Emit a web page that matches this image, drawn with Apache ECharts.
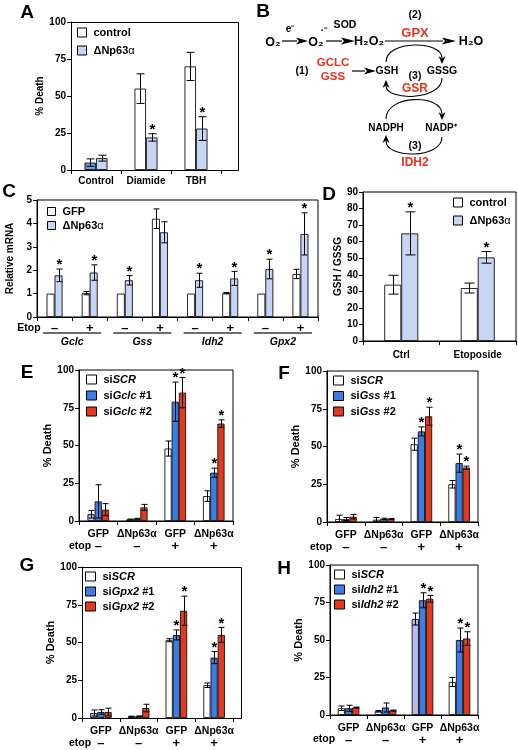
<!DOCTYPE html>
<html><head><meta charset="utf-8">
<script src="https://cdn.jsdelivr.net/npm/echarts@6/dist/echarts.min.js"></script>
<style>html,body{margin:0;padding:0;background:#fff}#c{width:518px;height:750px}</style>
</head><body><div id="c"></div>
<script>
// ---------- DATA ----------
// Panel A
const aCats = ['Control', 'Diamide', 'TBH'];
const aControl = [5, 55, 70];
const aControlErr = [2.5, 10, 9.5];
const aDelta = [8, 22, 28];
const aDeltaErr = [2, 2.5, 8];
const aDeltaStar = [0, 1, 1];

// Panel C
const cSigns = ['–', '+', '–', '+', '–', '+', '–', '+'];
const cGenes = ['Gclc', 'Gss', 'Idh2', 'Gpx2'];
const cGFP = [1, 1.02, 1, 4.2, 1, 1.02, 1, 1.84];
const cGFPErr = [0, 0.07, 0, 0.42, 0, 0.03, 0, 0.2];
const cDelta = [1.78, 1.9, 1.57, 3.62, 1.57, 1.65, 2.05, 3.55];
const cDeltaErr = [0.27, 0.33, 0.2, 0.45, 0.3, 0.3, 0.42, 0.9];
const cDeltaStar = [1, 1, 1, 0, 1, 1, 1, 1];

// Panel D
const dCats = ['Ctrl', 'Etoposide'];
const dControl = [34, 32];
const dControlErr = [5.7, 3];
const dDelta = [65, 50.5];
const dDeltaErr = [13, 3.5];
const dDeltaStar = [1, 1];

// Panels E-H
const siCats = ['GFP', 'ΔNp63α', 'GFP', 'ΔNp63α'];
const siEtop = ['–', '–', '+', '+'];

const eSCR = [4.5, 1, 48, 16.5];   const eSCRErr = [2.5, 0.3, 5, 3.5];
const eSi1 = [13, 1.5, 79, 32];    const eSi1Err = [11, 0.3, 13, 3];
const eSi2 = [7.5, 9, 85, 64.5];   const eSi2Err = [4, 2, 10, 2.5];
const eSi1Star = [0, 0, 1, 1];     const eSi2Star = [0, 0, 1, 1];

const fSCR = [2, 1.5, 51.5, 25];   const fSCRErr = [2.5, 1.5, 4, 2.5];
const fSi1 = [2, 2, 60, 39];       const fSi1Err = [1, 0.5, 3, 6];
const fSi2 = [3.5, 2, 70, 36];     const fSi2Err = [1.5, 0.3, 6, 1];
const fSi1Star = [0, 0, 1, 1];     const fSi2Star = [0, 0, 1, 1];

const gSCR = [3.3, 1, 51.5, 21.7]; const gSCRErr = [2, 0.2, 1, 1.5];
const gSi1 = [4, 1.2, 55, 40];     const gSi1Err = [1.5, 0.2, 3.3, 4];
const gSi2 = [4, 6.6, 71, 55];     const gSi2Err = [2.5, 2.5, 9.7, 5];
const gSi1Star = [0, 0, 1, 1];     const gSi2Star = [0, 0, 1, 1];

const hSCR = [4.5, 2.5, 64, 22];   const hSCRErr = [1.5, 0.5, 4, 3];
const hSi1 = [4.5, 5, 76.5, 50];   const hSi1Err = [2, 3, 5, 8];
const hSi2 = [5, 3, 77.5, 51];     const hSi2Err = [0.3, 0.3, 2.2, 4.5];
const hSi1Star = [0, 0, 1, 1];     const hSi2Star = [0, 0, 1, 1];

// ---------- STYLE ----------
const FONT = 'Arial, "Liberation Sans", sans-serif';
const WHITE = '#ffffff', LIGHT = '#c6d5f4', BLUE = '#3b7de2', RED = '#e5381c', LAV = '#b9b9ec', MID = '#64a2e8';
const REDTXT = '#e8321e';

const grids = [], xAxes = [], yAxes = [], series = [], legends = [], graphics = [];

function addPanel(p) {
  const gi = grids.length;
  grids.push({ left: p.x, top: p.y, width: p.w, height: p.h, show: p.box !== false, borderColor: '#000', borderWidth: 1,
    backgroundColor: 'transparent', containLabel: false, outerBoundsMode: 'none' });
  if (p.frameW) graphics.push({ type: 'rect', shape: { x: p.x + 0.5, y: p.y + 0.5, width: p.frameW, height: p.h },
    style: { fill: 'none', stroke: '#000', lineWidth: 1 }, silent: true });
  const xi = xAxes.length;
  xAxes.push({ type: 'category', gridIndex: gi, data: p.cats, position: 'bottom',
    axisLine: { show: true, lineStyle: { color: '#000', width: 1 } },
    axisTick: { show: true, length: 4, lineStyle: { color: '#000' } },
    axisLabel: Object.assign({ interval: 0, color: '#000', fontFamily: FONT, fontWeight: 'bold', fontSize: 10, margin: p.xMargin || 6 }, p.xLabel || {}),
    splitLine: { show: false } });
  if (p.xAxis2) xAxes.push(Object.assign({ type: 'category', gridIndex: gi, position: 'bottom' }, p.xAxis2));
  const yi = yAxes.length;
  yAxes.push({ type: 'value', gridIndex: gi, min: 0, max: p.max, interval: p.interval,
    axisLine: { show: true, lineStyle: { color: '#000', width: 1 } },
    axisTick: { show: true, length: 4, lineStyle: { color: '#000' } },
    splitLine: { show: false },
    axisLabel: { color: '#000', fontFamily: FONT, fontWeight: 'bold', fontSize: 10, margin: 5 },
    name: p.yName, nameLocation: 'middle', nameGap: p.nameGap, nameRotate: 90,
    nameTextStyle: { color: '#000', fontFamily: FONT, fontWeight: 'bold', fontSize: p.nameSize || 10.5 } });
  const n = p.series.length, bw = p.bw, cap = p.cap;
  const errData = [];
  p.series.forEach((s, k) => {
    series.push({ type: 'bar', name: s.name, xAxisIndex: xi, yAxisIndex: yi, barWidth: bw, barGap: '0%',
      data: s.values.map((v, i) => (s.itemColors && s.itemColors[i]) ? { value: v, itemStyle: { color: s.itemColors[i] } } : v),
      itemStyle: { color: s.color, borderColor: '#111', borderWidth: 0.9 }, silent: true, animation: false });
    s.values.forEach((v, i) => errData.push([i, v, s.err[i], k, s.star ? s.star[i] : 0]));
  });
  series.push({ type: 'custom', xAxisIndex: xi, yAxisIndex: yi, data: errData, encode: { x: 0, y: 1 }, z: 5,
    silent: true, animation: false,
    renderItem: function (params, api) {
      const cat = api.value(0), v = api.value(1), e = api.value(2), k = api.value(3), st = api.value(4);
      const base = api.coord([cat, v]);
      const x = Math.round(base[0] + (k - (n - 1) / 2) * bw) + 0.5;
      const yTop = api.coord([cat, v + e])[1];
      const yBot = api.coord([cat, Math.max(0, v - e)])[1];
      const ch = [];
      if (e > 0) {
        ch.push({ type: 'line', shape: { x1: x, y1: yTop, x2: x, y2: yBot }, style: { stroke: '#000', lineWidth: 1 } });
        ch.push({ type: 'line', shape: { x1: x - cap, y1: yTop, x2: x + cap, y2: yTop }, style: { stroke: '#000', lineWidth: 1 } });
        ch.push({ type: 'line', shape: { x1: x - cap, y1: yBot, x2: x + cap, y2: yBot }, style: { stroke: '#000', lineWidth: 1 } });
      }
      if (st) ch.push({ type: 'text', x: x, y: yTop - 4, style: { text: '*', fill: '#000', font: 'bold 15px ' + FONT, align: 'center', verticalAlign: 'middle' } });
      return { type: 'group', children: ch };
    } });
}

const legRich = {
  r: { fontFamily: FONT, fontWeight: 'bold', fontSize: 11, color: '#000' },
  i: { fontFamily: FONT, fontWeight: 'bold', fontStyle: 'italic', fontSize: 11, color: '#000' },
  a: { fontFamily: FONT, fontWeight: 'normal', fontSize: 11, color: '#000' }
};
function fmtLegend(name) {
  if (name === 'ΔNp63α') return '{r|ΔNp63}{a|α}';
  if (name === 'siSCR') return '{r|si}{i|SCR}';
  const m = name.match(/^si(\S+)(.*)$/);
  if (m) return '{r|si}{i|' + m[1] + '}{r|' + m[2] + '}';
  return '{r|' + name + '}';
}
function addLegend(names, left, top, gap, iw, ih) {
  legends.push({ data: names, left: left, top: top, orient: 'vertical', itemGap: gap, itemWidth: iw, itemHeight: ih,
    padding: 0, selectedMode: false, icon: 'rect', formatter: fmtLegend,
    itemStyle: { borderColor: '#000', borderWidth: 1 },
    textStyle: { rich: legRich, padding: [0, 0, 0, 2] } });
}
function T(x, y, t, size, color, extra) {
  return { type: 'text', x: x, y: y, silent: true,
    style: Object.assign({ text: t, fill: color || '#000', font: 'bold ' + size + 'px ' + FONT, align: 'center', verticalAlign: 'middle' }, extra || {}) };
}

// ---------- Panel A ----------
addPanel({ x: 71, y: 22, w: 150, h: 148, box: false, frameW: 167, cats: aCats, max: 100, interval: 25, yName: '% Death', nameGap: 21,
  bw: 11.5, cap: 4, xMargin: 6, nameSize: 10,
  series: [
    { name: 'control', values: aControl, err: aControlErr, color: WHITE, itemColors: [MID, null, null] },
    { name: 'ΔNp63α', values: aDelta, err: aDeltaErr, color: LIGHT, star: aDeltaStar }
  ] });
addLegend(['control', 'ΔNp63α'], 77, 27, 7, 9, 9);

// ---------- Panel C ----------
addPanel({ x: 37, y: 200, w: 281, h: 117, cats: cSigns, max: 5, interval: 1, yName: 'Relative mRNA', nameGap: 17,
  bw: 8, cap: 3, xMargin: 5, nameSize: 10,
  xLabel: { fontSize: 13, lineHeight: 12 },
  xAxis2: { data: cGenes, axisLine: { show: false }, axisTick: { show: false }, splitLine: { show: false },
    axisLabel: { interval: 0, margin: 16, formatter: v => '{u|}\n{g|' + v + '}',
      rich: { u: { width: 58, height: 0, borderColor: '#000', borderWidth: 0.7 },
              g: { fontFamily: FONT, fontWeight: 'bold', fontStyle: 'italic', fontSize: 10.5, color: '#000', lineHeight: 19 } } } },
  series: [
    { name: 'GFP', values: cGFP, err: cGFPErr, color: WHITE },
    { name: 'ΔNp63α', values: cDelta, err: cDeltaErr, color: LIGHT, star: cDeltaStar }
  ] });
addLegend(['GFP', 'ΔNp63α'], 47, 206, 3, 8, 8);

// ---------- Panel D ----------
addPanel({ x: 363, y: 192, w: 153, h: 149, cats: dCats, max: 90, interval: 10, yName: 'GSH / GSSG', nameGap: 20,
  bw: 17, cap: 5, xMargin: 9, nameSize: 10,
  series: [
    { name: 'control', values: dControl, err: dControlErr, color: WHITE },
    { name: 'ΔNp63α', values: dDelta, err: dDeltaErr, color: LIGHT, star: dDeltaStar }
  ] });
addLegend(['control', 'ΔNp63α'], 453, 197, 7, 9, 9);

// ---------- Panels E-H ----------
const siXLabel = {
  formatter: (v, i) => '{n|' + v + '}\n{s|' + siEtop[i] + '}',
  rich: { n: { fontFamily: FONT, fontWeight: 'bold', fontSize: 10.5, color: '#000', lineHeight: 12 },
          s: { fontFamily: FONT, fontWeight: 'bold', fontSize: 13, color: '#000', lineHeight: 12 } }
};
function siPanel(x, y, w, h, frameW, gene, scr, scrE, s1, s1E, s2, s2E, st1, st2, scrColors, lx, ly, lgap) {
  addPanel({ x: x, y: y, w: w, h: h, box: !frameW, frameW: frameW, cats: siCats, max: 100, interval: 25, yName: '% Death', nameGap: 21,
    bw: 7.2, cap: 3, xMargin: 7, xLabel: siXLabel, nameSize: 11,
    series: [
      { name: 'siSCR', values: scr, err: scrE, color: WHITE, itemColors: scrColors },
      { name: 'si' + gene + ' #1', values: s1, err: s1E, color: BLUE, star: st1 },
      { name: 'si' + gene + ' #2', values: s2, err: s2E, color: RED, star: st2 }
    ] });
  addLegend(['siSCR', 'si' + gene + ' #1', 'si' + gene + ' #2'], lx, ly, lgap, 10, 9);
}
siPanel(79, 370, 154, 151, 0, 'Gclc', eSCR, eSCRErr, eSi1, eSi1Err, eSi2, eSi2Err, eSi1Star, eSi2Star, [LAV, null, null, null], 86, 374, 5);
siPanel(327, 371, 151, 151, 0, 'Gss', fSCR, fSCRErr, fSi1, fSi1Err, fSi2, fSi2Err, fSi1Star, fSi2Star, null, 333, 375, 4.5);
siPanel(82, 567, 151, 151, 159, 'Gpx2', gSCR, gSCRErr, gSi1, gSi1Err, gSi2, gSi2Err, gSi1Star, gSi2Star, [LAV, null, null, null], 85, 571, 4);
siPanel(330, 565, 148, 150, 0, 'Idh2', hSCR, hSCRErr, hSi1, hSi1Err, hSi2, hSi2Err, hSi1Star, hSi2Star, [null, null, LAV, null], 334, 569, 4);

// ---------- Panel letters & extra axis text ----------
graphics.push(T(27, 13, 'A', 19), T(263, 12, 'B', 19), T(9, 192, 'C', 19), T(329, 195, 'D', 19),
  T(27, 373, 'E', 19), T(284, 374, 'F', 19), T(27, 566, 'G', 19), T(284, 569, 'H', 19));
graphics.push(T(29, 328, 'Etop', 10.5), T(80, 546, 'etop', 10.5), T(321, 547, 'etop', 10.5),
  T(80, 743, 'etop', 10.5), T(324, 739, 'etop', 10.5));

// ---------- Panel B diagram ----------
function arrowLine(x1, y, x2, headLen) {
  return [
    { type: 'line', shape: { x1: x1, y1: y, x2: x2 - headLen + 1, y2: y }, style: { stroke: '#000', lineWidth: 1.2 }, silent: true },
    { type: 'polygon', shape: { points: [[x2, y], [x2 - headLen, y - 3.5], [x2 - headLen + 3, y], [x2 - headLen, y + 3.5]] }, style: { fill: '#000' }, silent: true }
  ];
}
function curve(x1, y1, cy, x2, y2) {
  return { type: 'bezierCurve', shape: { x1: x1, y1: y1, cpx1: x1, cpy1: cy, cpx2: x2, cpy2: cy, x2: x2, y2: y2 },
    style: { stroke: '#000', lineWidth: 1.1, fill: 'none' }, silent: true };
}
function headV(x, tipY, dir) {
  return { type: 'polygon', shape: { points: [[x, tipY], [x - 3.5, tipY - dir * 8], [x, tipY - dir * 5.5], [x + 3.5, tipY - dir * 8]] },
    style: { fill: '#000' }, silent: true };
}
graphics.push(
  T(290, 29, 'e⁻', 10), T(345, 25, 'SOD', 10.5), T(415, 15, '(2)', 10.5), T(415, 33, 'GPX', 13, REDTXT),
  T(273, 43, 'O₂', 12.5), T(316, 43, 'O₂', 12.5), T(324, 31, '·⁻', 10),
  T(369, 42, 'H₂O₂', 12.5), T(471, 42, 'H₂O', 12.5),
  T(302, 71, '(1)', 10.5), T(333, 63, 'GCLC', 11.5, REDTXT), T(333, 77, 'GSS', 11.5, REDTXT),
  T(387, 71, 'GSH', 10.5), T(442, 71, 'GSSG', 10.5), T(415, 76, '(3)', 10.5), T(415, 89, 'GSR', 12, REDTXT),
  T(386, 128, 'NADPH', 10), T(441, 128, 'NADP⁺', 10), T(415, 146, '(3)', 10.5), T(415, 163, 'IDH2', 12, REDTXT)
);
graphics.push(...arrowLine(282, 41, 308, 12), ...arrowLine(326, 41, 355, 14), ...arrowLine(385, 41, 456, 14), ...arrowLine(352, 71, 376, 12));
graphics.push(
  curve(386, 62, 40, 442, 58), headV(442, 64, 1),
  curve(442, 78, 101, 386, 86), headV(386, 80, -1),
  curve(386, 119, 94, 442, 114), headV(442, 120, 1),
  curve(442, 137, 159, 386, 141), headV(386, 135, -1)
);

const chart = echarts.init(document.getElementById('c'), null, { renderer: 'canvas', width: 518, height: 750 });
chart.setOption({
  animation: false,
  backgroundColor: '#fff',
  textStyle: { fontFamily: FONT },
  grid: grids, xAxis: xAxes, yAxis: yAxes, legend: legends, series: series, graphic: graphics
});
</script></body></html>
